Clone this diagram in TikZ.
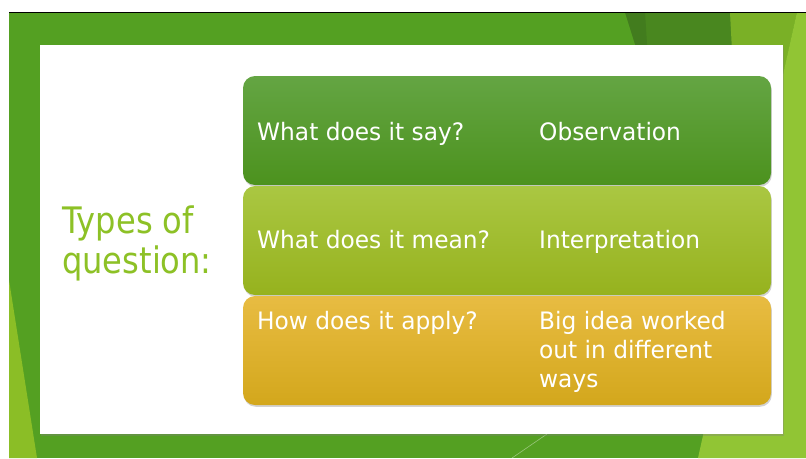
\documentclass[tikz,border=0pt]{standalone}
\usepackage{fontspec}
\setmainfont{DejaVu Sans}
\newfontfamily\cardfont[FakeStretch=0.97]{DejaVu Sans}
\newfontfamily\titlefont[FakeStretch=0.88]{DejaVu Sans}
\usetikzlibrary{shadows}
\definecolor{bggreen}{RGB}{84,160,34}
\definecolor{darkfacet}{RGB}{73,135,31}
\definecolor{darkerfacet}{RGB}{66,124,30}
\definecolor{medfacet}{RGB}{122,176,38}
\definecolor{lightfacet}{RGB}{145,197,52}
\definecolor{leftfacet}{RGB}{139,190,38}
\definecolor{titlegreen}{RGB}{141,193,38}
\definecolor{cAtop}{RGB}{100,165,67}
\definecolor{cAbot}{RGB}{76,146,30}
\definecolor{cBtop}{RGB}{170,199,66}
\definecolor{cBbot}{RGB}{150,178,30}
\definecolor{cCtop}{RGB}{232,188,66}
\definecolor{cCbot}{RGB}{211,167,28}
\tikzset{
  cardbox/.style={rounded corners=12pt, minimum width=528pt, minimum height=109pt,
    inner sep=0pt, drop shadow={opacity=0.35, shadow xshift=0.8pt, shadow yshift=-1.8pt}},
  celltext/.style={anchor=base west, text=white, font=\cardfont\fontsize{24}{29}\selectfont, inner sep=0pt, align=left},
  titletext/.style={anchor=base west, text=titlegreen, font=\titlefont\fontsize{36.5}{40}\selectfont, inner sep=0pt, align=left}
}
\begin{document}
\begin{tikzpicture}[x=1pt,y=-1pt]
\useasboundingbox (0,0) rectangle (806,458);
\fill[white] (0,0) rectangle (806,458);
% background
\fill[bggreen] (9,12) rectangle (806,458);
\fill[darkfacet] (625,12) -- (730,12) -- (734,60) -- (640,60) -- cycle;
\fill[darkerfacet] (625,12) -- (645,12) -- (648,60) -- (640,60) -- cycle;
\fill[medfacet] (730,12) -- (797,12) -- (780,90) -- (734,90) -- cycle;
\fill[lightfacet] (797,12) -- (806,12) -- (806,458) -- (698,458) -- cycle;
\fill[leftfacet] (9,280) -- (37,458) -- (9,458) -- cycle;
\draw[white, opacity=0.4, line width=0.6pt] (547,434) -- (512,458);
\draw[black, line width=1.4pt] (9,12.5) -- (806,12.5);
% panel
\node[fill=white, minimum width=743pt, minimum height=389pt, inner sep=0pt,
  drop shadow={opacity=0.35, shadow xshift=1pt, shadow yshift=-1.5pt}] (panel) at (411.5,239.5) {};
% title
\node[titletext] (title) at (62,273) {Types of\\question:};
% cards
\node[cardbox, top color=cAtop, bottom color=cAbot] (card1) at (507,130.5) {};
\node[cardbox, top color=cBtop, bottom color=cBbot] (card2) at (507,240.5) {};
\node[cardbox, top color=cCtop, bottom color=cCbot] (card3) at (507,350.5) {};
% texts
\node[celltext] (q1) at (257,140.5) {What does it say?};
\node[celltext] (a1) at (539,140.5) {Observation};
\node[celltext] (q2) at (257,248) {What does it mean?};
\node[celltext] (a2) at (539,248) {Interpretation};
\node[celltext] (q3) at (257,329.5) {How does it apply?};
\node[celltext] (a3) at (539,387) {Big idea worked\\out in different\\ways};
\end{tikzpicture}
\end{document}
